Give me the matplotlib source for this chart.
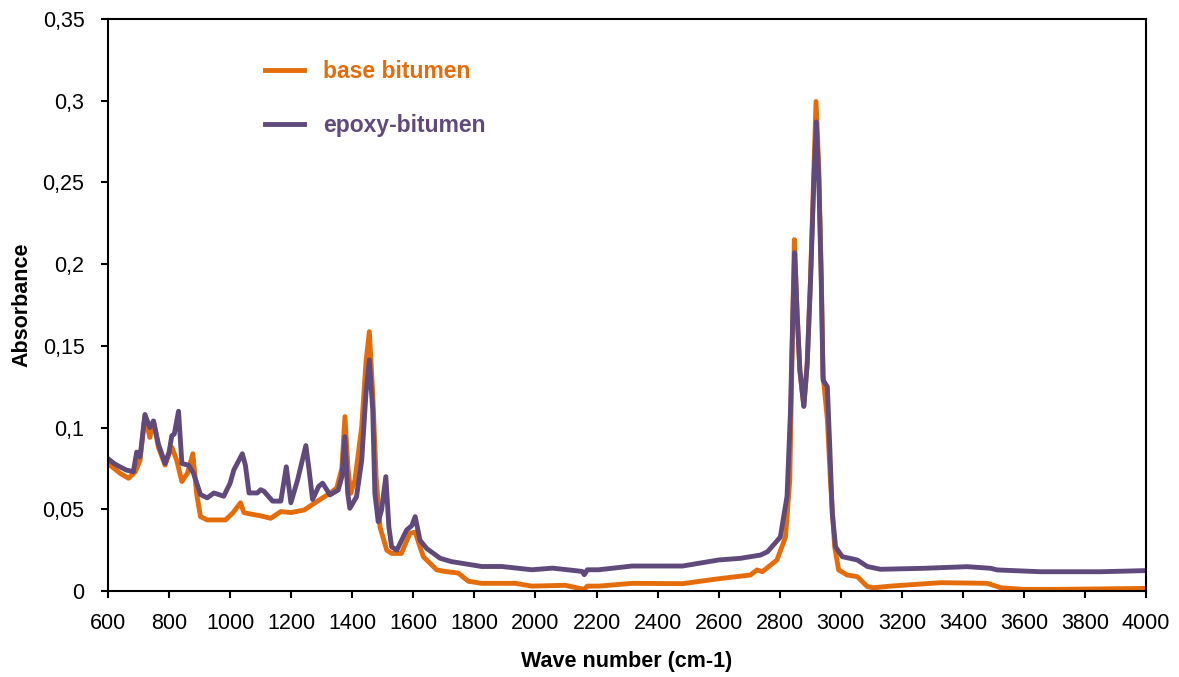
import matplotlib
matplotlib.use("Agg")
import matplotlib.pyplot as plt
from matplotlib.ticker import FuncFormatter

# FTIR spectra (wave number cm-1, absorbance)
base_x = [600, 620, 640, 667, 690, 705, 721, 737, 749, 765, 787, 800, 809, 825, 842, 860, 878,
          890, 903, 925, 985, 1010, 1034, 1045, 1056, 1100, 1133, 1166, 1200, 1243, 1286, 1327,
          1349, 1366, 1376, 1386, 1395, 1409, 1431, 1445, 1456, 1467, 1478, 1491, 1513, 1529,
          1561, 1589, 1606, 1620, 1633, 1649, 1677, 1703, 1747, 1780, 1824, 1934, 1988, 2097,
          2160, 2170, 2207, 2317, 2482, 2600, 2704, 2726, 2743, 2791, 2819, 2833, 2841, 2848,
          2857, 2866, 2879, 2890, 2901, 2912, 2919, 2928, 2936, 2942, 2956, 2966, 2980, 2993,
          3021, 3054, 3087, 3108, 3163, 3327, 3480, 3524, 3600, 3709, 4000]
base_y = [0.078, 0.075, 0.072, 0.069, 0.073, 0.080, 0.107, 0.094, 0.104, 0.088, 0.077, 0.084,
          0.088, 0.080, 0.067, 0.072, 0.084, 0.060, 0.0455, 0.0435, 0.0435, 0.048, 0.054, 0.048,
          0.0475, 0.046, 0.0445, 0.0486, 0.048, 0.0496, 0.055, 0.0598,
          0.063, 0.075, 0.1067, 0.075, 0.0598, 0.068, 0.1006, 0.140, 0.1587, 0.121, 0.070, 0.039,
          0.025, 0.023, 0.023, 0.0353, 0.036, 0.028, 0.021, 0.018, 0.0129, 0.012, 0.011, 0.006,
          0.0047, 0.0047, 0.003, 0.0035, 0.001, 0.003, 0.003, 0.0047, 0.0045, 0.0075, 0.0098,
          0.0129, 0.0118, 0.019, 0.033, 0.068, 0.150, 0.215, 0.170, 0.135, 0.113, 0.139, 0.192,
          0.258, 0.2995, 0.258, 0.195, 0.132, 0.105, 0.068, 0.027, 0.0129, 0.0098, 0.0088,
          0.0027, 0.002, 0.003, 0.0051, 0.0047, 0.002, 0.001, 0.001, 0.0016]

epoxy_x = [600, 620, 639, 660, 683, 694, 705, 721, 737, 749, 765, 787, 800, 809, 817, 831, 842,
           864, 880, 903, 925, 947, 979, 1000, 1012, 1040, 1050, 1062, 1089, 1100, 1111, 1139,
           1166, 1184, 1199, 1221, 1248, 1258, 1270, 1290, 1303, 1327, 1354, 1366, 1376, 1385,
           1392, 1414, 1431, 1445, 1456, 1467, 1474, 1485, 1496, 1510, 1520, 1529, 1546, 1578,
           1595, 1606, 1622, 1644, 1688, 1725, 1824, 1890, 1988, 2056, 2153, 2160, 2170, 2207,
           2317, 2482, 2600, 2671, 2737, 2760, 2802, 2824, 2835, 2843, 2849, 2857, 2866, 2879,
           2890, 2901, 2912, 2920, 2928, 2936, 2942, 2956, 2964, 2972, 2983, 3005, 3054, 3087,
           3130, 3272, 3414, 3491, 3513, 3655, 3851, 4000]
epoxy_y = [0.081, 0.078, 0.076, 0.074, 0.073, 0.085, 0.082, 0.108, 0.100, 0.104, 0.090, 0.078,
           0.085, 0.095, 0.096, 0.110, 0.078, 0.077, 0.072, 0.059, 0.057, 0.060, 0.058, 0.066,
           0.074, 0.084, 0.077, 0.060, 0.060, 0.062, 0.061, 0.055, 0.055, 0.076, 0.054, 0.068,
           0.089, 0.075, 0.056, 0.064, 0.066, 0.0588, 0.0618, 0.070, 0.0944, 0.060, 0.0506,
           0.0577, 0.080, 0.121, 0.1414, 0.111, 0.0598, 0.0424, 0.0496, 0.070, 0.039, 0.027,
           0.025, 0.0373, 0.040, 0.0455, 0.031, 0.026, 0.020, 0.018, 0.015, 0.015, 0.013, 0.014,
           0.012, 0.010, 0.013, 0.013, 0.0153, 0.0153, 0.019, 0.020, 0.022, 0.024, 0.033, 0.058,
           0.109, 0.170, 0.207, 0.170, 0.135, 0.113, 0.139, 0.190, 0.252, 0.287, 0.252, 0.190,
           0.129, 0.125, 0.088, 0.0476, 0.027, 0.021, 0.019, 0.015, 0.0133, 0.0139, 0.0149,
           0.0139, 0.0129, 0.0118, 0.0118, 0.0125]

x_ticks = list(range(600, 4001, 200))
y_ticks = [0, 0.05, 0.1, 0.15, 0.2, 0.25, 0.3, 0.35]

orange = "#E46C0A"
purple = "#604A7B"

plt.rcParams["font.family"] = ["Liberation Sans", "DejaVu Sans"]

fig = plt.figure(figsize=(11.79, 6.77), dpi=100)
ax = fig.add_axes([0.0916, 0.127, 0.8805, 0.845])

ax.plot(base_x, base_y, color=orange, linewidth=3.5, label="base bitumen",
        solid_joinstyle="round")
ax.plot(epoxy_x, epoxy_y, color=purple, linewidth=3.5, label="epoxy-bitumen",
        solid_joinstyle="round")

ax.set_xlim(600, 4000)
ax.set_ylim(0, 0.35)
ax.set_xticks(x_ticks)
ax.set_yticks(y_ticks)
ax.yaxis.set_major_formatter(FuncFormatter(lambda v, p: ("%g" % round(v, 2)).replace(".", ",")))
ax.tick_params(direction="out", length=5, width=1.5, labelsize=15.5, colors="black")
ax.tick_params(axis="y", pad=12)
ax.tick_params(axis="x", pad=11)
for s in ax.spines.values():
    s.set_linewidth(1.5)

ax.set_xlabel("Wave number (cm-1)", fontsize=15.5, fontweight="bold", labelpad=12)
ax.set_ylabel("Absorbance", fontsize=15.5, fontweight="bold", labelpad=7)

leg = ax.legend(loc="upper left", bbox_to_anchor=(0.151, 0.928), frameon=False,
                prop={"weight": "bold", "size": 16.5}, labelcolor="linecolor",
                handlelength=1.7, handletextpad=0.85, labelspacing=1.35,
                borderpad=0, borderaxespad=0)

fig.savefig("out.png", dpi=100)
